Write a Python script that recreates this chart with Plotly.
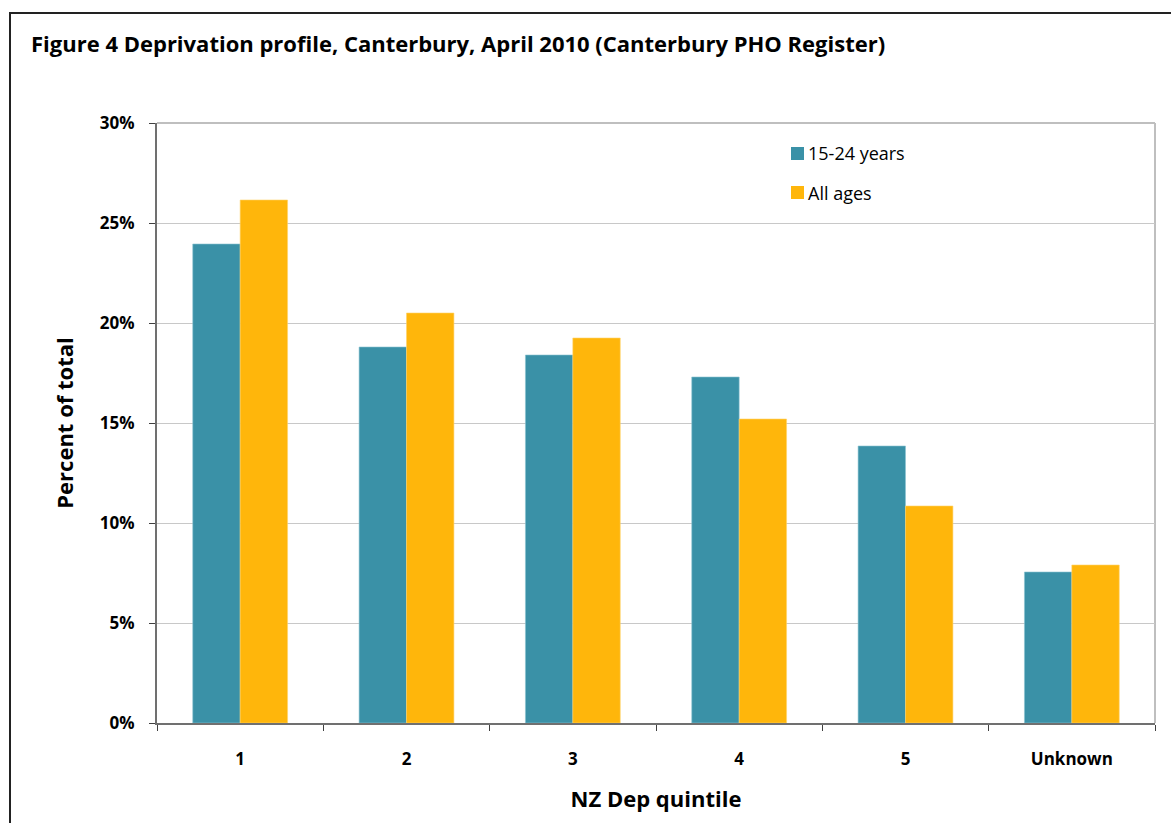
import plotly.graph_objects as go

# Deprivation quintiles and the share of enrolled population in each
quintiles = ["1", "2", "3", "4", "5", "Unknown"]
youth_pct = [23.95, 18.8, 18.4, 17.3, 13.85, 7.55]
all_ages_pct = [26.15, 20.5, 19.25, 15.2, 10.85, 7.9]
y_ticks = [0, 5, 10, 15, 20, 25, 30]
y_tick_labels = ["0%", "5%", "10%", "15%", "20%", "25%", "30%"]
series_names = ["15-24 years", "All ages"]
series_colors = ["#3A91A7", "#FFB60B"]
series_edges = ["#8CC3D1", "#FFD36A"]

W, H = 1171, 823
L, R, T, B = 157, 16, 123, 100
pw, ph = W - L - R, H - T - B

FONT = "'Open Sans', sans-serif"


def px_x(x):
    return (x - L) / pw


def px_y(y):
    return (H - B - y) / ph


fig = go.Figure()
for name, vals, col, edge in zip(series_names, [youth_pct, all_ages_pct], series_colors, series_edges):
    fig.add_trace(go.Bar(
        x=quintiles, y=vals, name=name, showlegend=False,
        marker=dict(color=col, line=dict(width=0.6, color=edge)),
    ))

# outer frame around the whole figure
fig.add_shape(type="rect", xref="paper", yref="paper",
              x0=px_x(10), x1=px_x(W + 10), y0=px_y(H + 10), y1=px_y(13),
              line=dict(color="#222222", width=2), layer="below")
# light border on the top and right of the plot area
fig.add_shape(type="line", xref="paper", yref="paper", x0=0, x1=1, y0=1, y1=1,
              line=dict(color="#BFBFBF", width=2), layer="below")
fig.add_shape(type="line", xref="paper", yref="paper", x0=1, x1=1, y0=0, y1=1,
              line=dict(color="#BFBFBF", width=2), layer="below")

# legend: coloured squares with labels
for i, (name, col) in enumerate(zip(series_names, series_colors)):
    cy = 153.5 + 39 * i
    fig.add_shape(type="rect", xref="paper", yref="paper",
                  x0=px_x(791), x1=px_x(804), y0=px_y(cy + 6.5), y1=px_y(cy - 6.5),
                  fillcolor=col, line=dict(width=0))
    fig.add_annotation(xref="paper", yref="paper", x=px_x(806), y=px_y(cy),
                       xanchor="left", yanchor="middle", showarrow=False,
                       text=name, font=dict(size=18, family=FONT, color="#000"))

fig.update_layout(
    width=W, height=H,
    margin=dict(l=L, r=R, t=T, b=B),
    paper_bgcolor="white", plot_bgcolor="white",
    barmode="group", bargap=0.43, bargroupgap=0,
    showlegend=False,
    font=dict(family=FONT, color="#000000"),
    title=dict(
        text="<b>Figure 4 Deprivation profile, Canterbury, April 2010 (Canterbury PHO Register)</b>",
        x=31 / W, xanchor="left", y=1 - 44 / H, yanchor="middle",
        font=dict(size=22, family=FONT),
    ),
    xaxis=dict(
        type="category", tickson="boundaries", ticks="outside", ticklen=6,
        tickcolor="#404040", showline=True, linecolor="#707070", linewidth=2,
        tickfont=dict(size=17, family=FONT), showgrid=False,
        tickvals=quintiles, ticktext=["<b>%s</b>" % q for q in quintiles],
        title=dict(text="<b>NZ Dep quintile</b>", font=dict(size=22, family=FONT), standoff=22),
        ticklabelstandoff=20,
    ),
    yaxis=dict(
        range=[0, 30], tickvals=y_ticks, ticktext=["<b>%s</b>" % t for t in y_tick_labels],
        ticks="outside", ticklen=6, tickcolor="#404040",
        showline=True, linecolor="#707070", linewidth=2,
        showgrid=True, gridcolor="#C8C8C8", gridwidth=1, zeroline=False,
        tickfont=dict(size=17, family=FONT), ticklabelstandoff=11,
        title=dict(text="<b>Percent of total</b>", font=dict(size=22, family=FONT), standoff=20),
    ),
)

fig.write_html("out.html")
